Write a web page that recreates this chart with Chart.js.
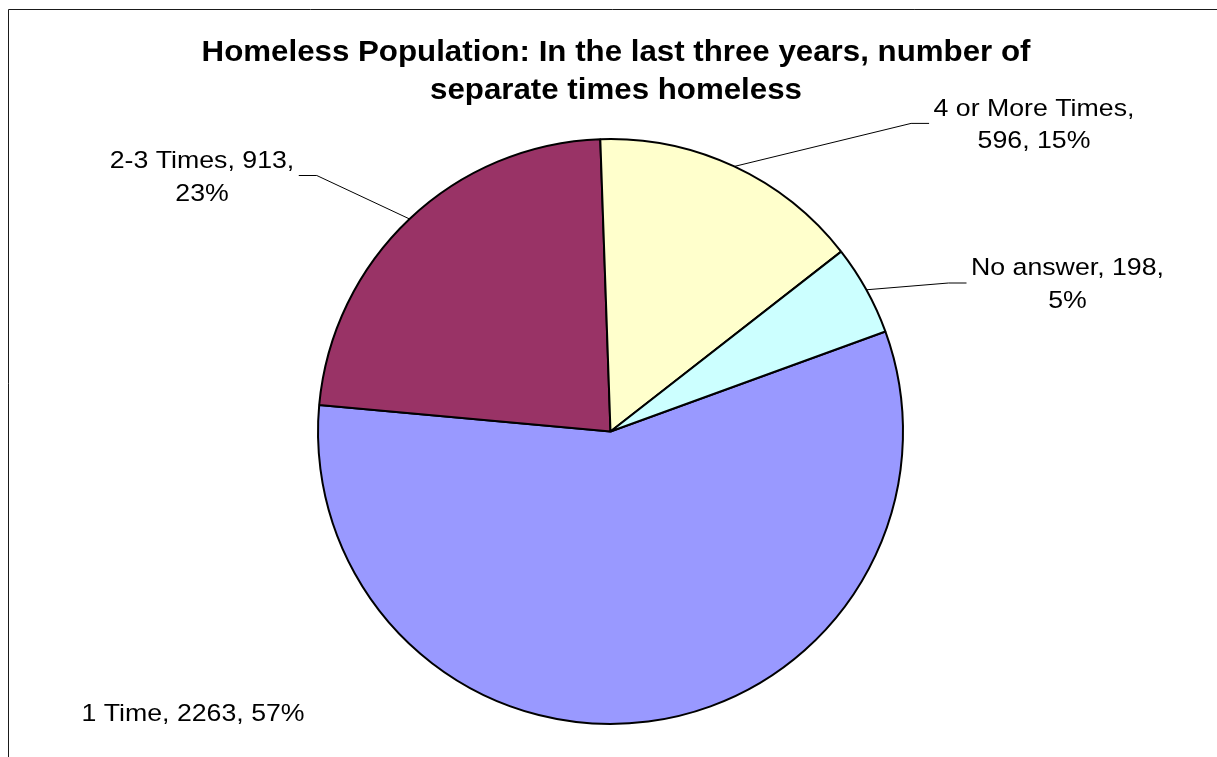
<!DOCTYPE html>
<html>
<head>
<meta charset="utf-8">
<title>Homeless Population</title>
<script src="https://cdn.jsdelivr.net/npm/chart.js@4.4.0/dist/chart.umd.min.js"></script>
<style>
  html, body { margin: 0; padding: 0; background: #ffffff; }
  #wrap { width: 1217px; height: 757px; position: relative; }
</style>
</head>
<body>
<div id="wrap"><canvas id="chart" width="1217" height="757"></canvas></div>
<script>
// Survey answers: number of separate times homeless in the last three years
const categories = ['1 Time', '2-3 Times', '4 or More Times', 'No answer'];
const counts = [2263, 913, 596, 198];
const sliceColors = ['#9999FF', '#993366', '#FFFFCC', '#CCFFFF'];
const titleLines = ['Homeless Population: In the last three years, number of', 'separate times homeless'];

const FONT = '"Liberation Sans", Arial, Helvetica, sans-serif';

// Draw text with a slight horizontal stretch (wide Arial look)
function stretchedText(ctx, text, x, y, sx, align) {
  const w = ctx.measureText(text).width * sx;
  const left = align === 'center' ? x - w / 2 : (align === 'right' ? x - w : x);
  ctx.save();
  ctx.translate(left, y);
  ctx.scale(sx, 1);
  ctx.textAlign = 'left';
  ctx.textBaseline = 'alphabetic';
  ctx.fillText(text, 0, 0);
  ctx.restore();
  return w;
}

function wrapWords(ctx, text, maxW, sx) {
  const words = text.split(' ');
  const lines = [];
  let cur = '';
  words.forEach(w => {
    const test = cur ? cur + ' ' + w : w;
    if (cur && ctx.measureText(test).width * sx > maxW) {
      lines.push(cur);
      cur = w;
    } else {
      cur = test;
    }
  });
  if (cur) lines.push(cur);
  return lines;
}

// White background, frame edges and the two-line bold title
const framePlugin = {
  id: 'frameAndTitle',
  beforeDraw(chart) {
    const ctx = chart.ctx;
    ctx.save();
    ctx.fillStyle = '#ffffff';
    ctx.fillRect(0, 0, chart.width, chart.height);
    ctx.strokeStyle = '#1a1a1a';
    ctx.lineWidth = 1;
    ctx.beginPath();
    ctx.moveTo(8.5, chart.height);
    ctx.lineTo(8.5, 9.5);
    ctx.lineTo(chart.width, 9.5);
    ctx.stroke();

    ctx.fillStyle = '#000000';
    ctx.font = 'bold 29.5px ' + FONT;
    stretchedText(ctx, titleLines[0], 616, 61, 1.06, 'center');
    stretchedText(ctx, titleLines[1], 616, 99, 1.06, 'center');
    ctx.restore();
  }
};

// Category, count and percentage labels with leader lines
const sliceLabelPlugin = {
  id: 'sliceLabels',
  afterDatasetsDraw(chart, args, opts) {
    const ctx = chart.ctx;
    const meta = chart.getDatasetMeta(0);
    const total = counts.reduce((a, b) => a + b, 0);
    const sx = opts.stretch;
    ctx.save();
    ctx.font = opts.size + 'px ' + FONT;
    ctx.fillStyle = '#000000';
    ctx.strokeStyle = '#000000';
    ctx.lineWidth = 1;
    meta.data.forEach((arc, i) => {
      const place = opts.places[i];
      const pct = Math.round(counts[i] / total * 100);
      const text = categories[i] + ', ' + counts[i] + ', ' + pct + '%';
      const lines = wrapWords(ctx, text, place.wrap, sx);
      const widths = lines.map(l => ctx.measureText(l).width * sx);
      const maxW = Math.max.apply(null, widths);
      const n = lines.length;
      lines.forEach((l, k) => {
        const base = place.y - (n - 1) * opts.lineHeight / 2 + opts.capHeight / 2 + k * opts.lineHeight;
        stretchedText(ctx, l, place.x, base, sx, 'center');
      });
      if (place.leader) {
        const p = arc.getProps(['x', 'y', 'startAngle', 'endAngle', 'outerRadius'], true);
        const mid = (p.startAngle + p.endAngle) / 2;
        const px = p.x + Math.cos(mid) * p.outerRadius;
        const py = p.y + Math.sin(mid) * p.outerRadius;
        const side = place.x > p.x ? -1 : 1;
        const edge = place.x + side * (maxW / 2 + opts.gap);
        const elbow = edge + side * opts.shelf;
        ctx.beginPath();
        ctx.moveTo(px, py);
        ctx.lineTo(elbow, place.y);
        ctx.lineTo(edge, place.y);
        ctx.stroke();
      }
    });
    ctx.restore();
  }
};

new Chart(document.getElementById('chart'), {
  type: 'pie',
  data: {
    labels: categories,
    datasets: [{
      data: counts,
      backgroundColor: sliceColors,
      borderColor: '#000000',
      borderWidth: 2
    }]
  },
  options: {
    responsive: false,
    animation: false,
    devicePixelRatio: 1,
    rotation: 70,
    radius: 292.5,
    layout: { padding: { left: 4, right: 0, top: 106, bottom: 0 } },
    plugins: {
      legend: { display: false },
      tooltip: { enabled: false },
      title: { display: false },
      sliceLabels: {
        size: 24.5,
        stretch: 1.09,
        lineHeight: 32.7,
        capHeight: 17.3,
        gap: 4.5,
        shelf: 18,
        places: [
          { x: 193, y: 712, wrap: 400, leader: false },
          { x: 202, y: 175.5, wrap: 205, leader: true },
          { x: 1034, y: 123.4, wrap: 205, leader: true },
          { x: 1067.5, y: 283, wrap: 205, leader: true }
        ]
      }
    }
  },
  plugins: [framePlugin, sliceLabelPlugin]
});
</script>
</body>
</html>
